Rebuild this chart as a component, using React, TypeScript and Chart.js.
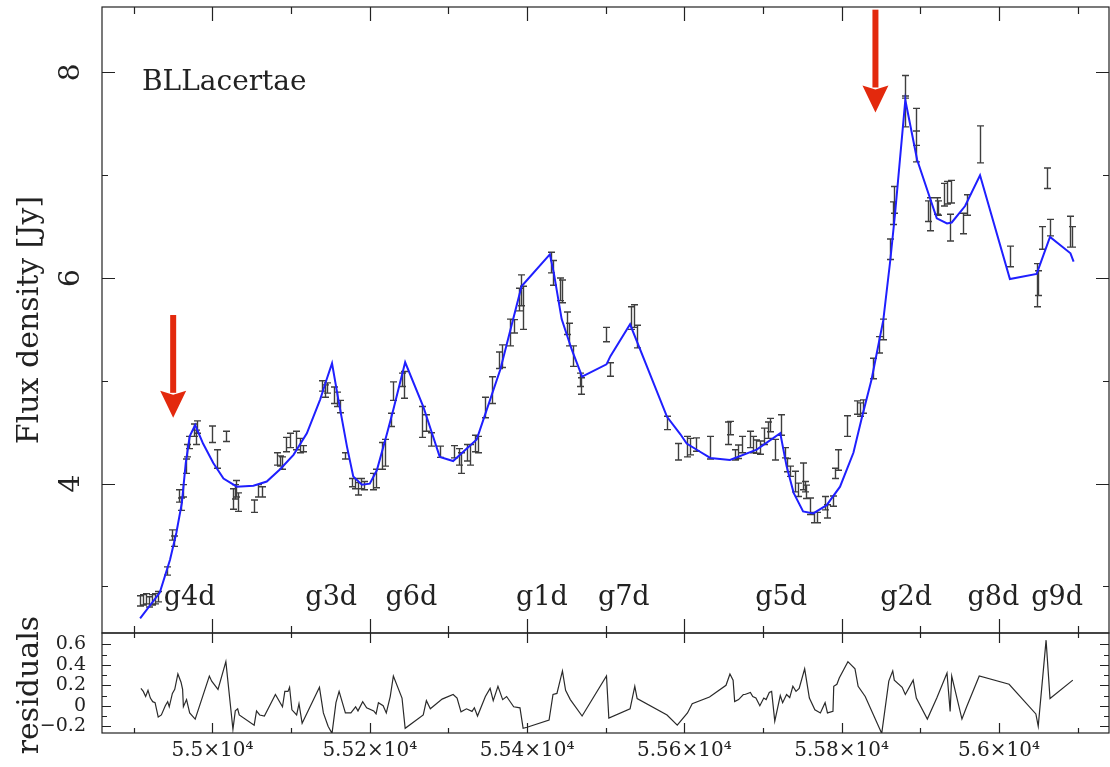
import React, { useEffect, useRef } from "react";
import { Chart, registerables } from "chart.js";

Chart.register(...registerables);

// ---------------- data ----------------
const obsMJD = [
  54908, 54912, 54915, 54919, 54923, 54927, 54931, 54942, 54949, 54951,
  54957, 54960, 54963, 54966, 54968, 54970, 54976, 54979, 54980, 54999,
  55006, 55017, 55026, 55028, 55030, 55032, 55053, 55058, 55063, 55082,
  55086, 55089, 55094, 55099, 55106, 55111, 55115, 55139, 55143, 55146,
  55155, 55158, 55162, 55169, 55177, 55181, 55185, 55189, 55193, 55204,
  55208, 55216, 55219, 55227, 55229, 55241, 55244, 55267, 55272, 55278,
  55289, 55307, 55313, 55316, 55324, 55328, 55334, 55337, 55347, 55356,
  55364, 55368, 55378, 55384, 55390, 55392, 55395, 55430, 55433, 55442,
  55445, 55451, 55453, 55458, 55467, 55469, 55501, 55505, 55532, 55536,
  55540, 55578, 55592, 55604, 55607, 55615, 55632, 55656, 55658, 55665,
  55668, 55673, 55684, 55687, 55691, 55696, 55701, 55707, 55709, 55715,
  55723, 55728, 55730, 55734, 55741, 55745, 55751, 55754, 55755, 55760,
  55765, 55769, 55779, 55782, 55789, 55792, 55796, 55807, 55819, 55824,
  55827, 55840, 55848, 55852, 55861, 55865, 55867, 55880, 55881, 55894,
  55895, 55910, 55913, 55921, 55923, 55930, 55934, 55939, 55938, 55954,
  55959, 55976, 56014, 56048, 56050, 56055, 56061, 56065, 56091, 56093,
];
const obsFlux = [
  2.86, 2.87, 2.88, 2.85, 2.87, 2.88, 2.9, 3.15, 3.5, 3.44,
  3.88, 3.8, 3.93, 4.17, 4.32, 4.4, 4.52, 4.45, 4.55, 4.48,
  4.24, 4.46, 3.85, 3.92, 3.95, 3.82, 3.78, 3.93, 3.92, 4.24,
  4.22, 4.2, 4.38, 4.42, 4.42, 4.37, 4.34, 4.95, 4.9, 4.93,
  4.86, 4.82, 4.75, 4.27, 4.01, 4.0, 3.95, 4.0, 3.98, 4.02,
  4.05, 4.27, 4.3, 4.62, 4.9, 5.01, 4.96, 4.6, 4.59, 4.43,
  4.31, 4.31, 4.26, 4.2, 4.3, 4.28, 4.39, 4.38, 4.74, 4.91,
  5.2, 5.24, 5.47, 5.53, 5.79, 5.88, 5.71, 6.15, 6.05, 5.89,
  5.87, 5.56, 5.45, 5.24, 5.01, 4.95, 5.45, 5.11, 5.61, 5.63,
  5.43, 4.59, 4.31, 4.36, 4.36, 4.38, 4.35, 4.49, 4.54, 4.28,
  4.31, 4.38, 4.43, 4.38, 4.36, 4.35, 4.46, 4.52, 4.57, 4.33,
  4.57, 4.3, 4.18, 4.12, 4.02, 3.94, 4.07, 3.97, 3.92, 3.78,
  3.67, 3.67, 3.81, 3.73, 3.83, 4.1, 4.23, 4.56, 4.74, 4.72,
  4.75, 5.12, 5.35, 5.5, 6.28, 6.63, 6.76, 7.62, 7.86, 7.47,
  7.28, 6.65, 6.62, 6.7, 6.68, 6.81, 6.83, 6.84, 6.49, 6.53,
  6.71, 7.3, 6.21, 5.93, 5.95, 6.39, 6.97, 6.49, 6.45, 6.4,
];
const obsErr = [
  0.05, 0.05, 0.05, 0.05, 0.05, 0.05, 0.05, 0.04, 0.05, 0.05,
  0.06, 0.06, 0.06, 0.07, 0.06, 0.06, 0.06, 0.07, 0.06, 0.08,
  0.09, 0.05, 0.1, 0.07, 0.08, 0.09, 0.06, 0.06, 0.05, 0.06,
  0.05, 0.06, 0.07, 0.07, 0.09, 0.07, 0.03, 0.05, 0.06, 0.05,
  0.08, 0.07, 0.06, 0.03, 0.04, 0.05, 0.06, 0.05, 0.04, 0.08,
  0.09, 0.13, 0.13, 0.065, 0.09, 0.065, 0.13, 0.15, 0.08, 0.065,
  0.055, 0.06, 0.08, 0.1, 0.08, 0.1, 0.08, 0.08, 0.1, 0.13,
  0.08, 0.11, 0.13, 0.065, 0.11, 0.15, 0.21, 0.1, 0.12, 0.11,
  0.11, 0.11, 0.11, 0.1, 0.065, 0.08, 0.07, 0.065, 0.11, 0.11,
  0.11, 0.065, 0.08, 0.1, 0.08, 0.065, 0.11, 0.11, 0.065, 0.05,
  0.065, 0.08, 0.08, 0.08, 0.065, 0.065, 0.08, 0.08, 0.065, 0.1,
  0.1, 0.05, 0.065, 0.05, 0.1, 0.065, 0.13, 0.05, 0.065, 0.08,
  0.05, 0.05, 0.065, 0.065, 0.05, 0.05, 0.1, 0.1, 0.065, 0.065,
  0.065, 0.1, 0.08, 0.1, 0.1, 0.11, 0.13, 0.15, 0.11, 0.18,
  0.15, 0.1, 0.16, 0.08, 0.07, 0.11, 0.11, 0.11, 0.13, 0.1,
  0.1, 0.18, 0.1, 0.21, 0.12, 0.11, 0.1, 0.08, 0.15, 0.1,
];

const modelMJD = [
  54908, 54933, 54946, 54954, 54961, 54966, 54971, 54978, 54988, 55001,
  55014, 55031, 55052, 55069, 55086, 55103, 55120, 55137, 55145, 55152,
  55160, 55171, 55179, 55190, 55200, 55209, 55222, 55230, 55245, 55268,
  55289, 55306, 55336, 55366, 55393, 55429, 55434, 55444, 55457, 55470,
  55501, 55506, 55531, 55578, 55595, 55603, 55620, 55633, 55658, 55692,
  55722, 55730, 55739, 55751, 55764, 55781, 55798, 55815, 55826, 55838,
  55853, 55862, 55868, 55881, 55896, 55921, 55934, 55940, 55957, 55976,
  56014, 56048, 56065, 56091, 56095,
];
const modelFlux = [
  2.69, 2.94, 3.26, 3.52, 3.81, 4.2, 4.46, 4.57, 4.39, 4.2,
  4.05, 3.97, 3.98, 4.02, 4.14, 4.28, 4.49, 4.82, 5.01, 5.17,
  4.82, 4.36, 4.07, 3.99, 4.0, 4.13, 4.49, 4.72, 5.18, 4.75,
  4.26, 4.22, 4.43, 5.11, 5.92, 6.23, 6.05, 5.6, 5.3, 5.04,
  5.16, 5.24, 5.55, 4.65, 4.48, 4.39, 4.31, 4.25, 4.23, 4.33,
  4.49, 4.17, 3.91, 3.73, 3.71, 3.79, 3.97, 4.3, 4.65, 5.01,
  5.59, 6.18, 6.63, 7.73, 7.15, 6.58, 6.53, 6.54, 6.7, 7.0,
  5.99, 6.04, 6.4, 6.24, 6.16,
];

const residMJD = [
  54909, 54912, 54915, 54918, 54921, 54924, 54927, 54929, 54931, 54935,
  54940, 54943, 54945, 54949, 54952, 54956, 54960, 54962, 54963, 54967,
  54971, 54978, 54996, 54999, 55007, 55017, 55026, 55029, 55032, 55034,
  55053, 55056, 55060, 55066, 55080, 55089, 55092, 55096, 55098, 55101,
  55107, 55110, 55114, 55136, 55141, 55147, 55152, 55157, 55161, 55169,
  55176, 55182, 55185, 55191, 55196, 55205, 55208, 55211, 55217, 55221,
  55226, 55230, 55241, 55245, 55268, 55272, 55277, 55292, 55306, 55311,
  55316, 55323, 55330, 55333, 55337, 55347, 55353, 55357, 55363, 55369,
  55374, 55383, 55391, 55395, 55400, 55428, 55433, 55438, 55445, 55449,
  55455, 55470, 55501, 55504, 55531, 55537, 55540, 55578, 55591, 55604,
  55610, 55632, 55653, 55658, 55662, 55664, 55669, 55675, 55677, 55684,
  55687, 55691, 55696, 55701, 55704, 55708, 55711, 55715, 55722, 55725,
  55730, 55734, 55738, 55742, 55746, 55753, 55759, 55766, 55773, 55779,
  55782, 55789, 55790, 55794, 55797, 55808, 55817, 55821, 55830, 55851,
  55860, 55865, 55867, 55877, 55881, 55891, 55895, 55909, 55921, 55934,
  55938, 55940, 55953, 55959, 55975, 56013, 56047, 56050, 56060, 56065,
  56094,
];
const residVal = [
  0.17, 0.14, 0.09, 0.15, 0.075, 0.04, 0.03, -0.04, -0.11, -0.09,
  0.0, 0.04, -0.01, 0.12, 0.16, 0.31, 0.23, 0.16, -0.01, 0.06,
  -0.07, -0.13, 0.29, 0.24, 0.16, 0.43, -0.23, -0.05, -0.03, -0.09,
  -0.19, -0.05, -0.09, -0.1, 0.11, -0.01, 0.14, 0.14, 0.18, -0.04,
  -0.09, 0.02, -0.17, 0.18, -0.07, -0.2, -0.27, 0.03, 0.14, -0.07,
  -0.07, -0.01, -0.05, 0.04, -0.02, -0.05, -0.08, 0.03, 0.0, -0.07,
  0.09, 0.29, 0.075, -0.22, -0.09, 0.05, -0.03, 0.065, 0.11, 0.075,
  -0.06, -0.03, -0.055, -0.02, -0.1, 0.09, 0.17, 0.05, 0.19, 0.06,
  0.09, -0.01, -0.02, -0.22, -0.21, -0.14, 0.11, 0.12, 0.34, 0.15,
  0.06, -0.1, 0.29, -0.12, -0.03, 0.19, 0.07, -0.09, -0.19, -0.07,
  0.02, 0.085, 0.2, 0.31, 0.25, 0.04, 0.06, 0.11, 0.11, 0.13,
  0.09, 0.075, 0.0, 0.075, 0.06, 0.13, 0.14, -0.15, 0.1, 0.03,
  0.11, 0.08, 0.19, 0.14, 0.17, 0.36, 0.075, -0.04, -0.07, 0.03,
  -0.07, -0.055, 0.19, 0.21, 0.27, 0.43, 0.36, 0.19, 0.09, -0.27,
  0.24, 0.34, 0.25, 0.18, 0.11, 0.25, 0.075, -0.13, 0.075, 0.32,
  -0.055, 0.29, -0.13, -0.01, 0.29, 0.21, -0.08, -0.2, 0.64, 0.07,
  0.25,
];

const componentNames = ["g4d", "g3d", "g6d", "g1d", "g7d", "g5d", "g2d", "g8d", "g9d"];
const componentMJD = [54971, 55151, 55253, 55419, 55523, 55723, 55882, 55993, 56074];
const componentLabelFlux = 2.82;

const arrowMJD = [54950, 55843];
const arrowTailFlux = [5.64, 8.61];
const arrowTipFlux = [4.64, 7.61];

const xMajorTicks = [55000, 55200, 55400, 55600, 55800, 56000];
const xTickLabels = ["5.5×10⁴", "5.52×10⁴", "5.54×10⁴", "5.56×10⁴", "5.58×10⁴", "5.6×10⁴"];
const xMinorTicks = [54900, 55100, 55300, 55500, 55700, 55900, 56100];
const fluxMajorTicks = [4, 6, 8];
const fluxTickLabels = ["4", "6", "8"];
const fluxMinorTicks = [3, 5, 7];
const residMajorTicks = [-0.2, 0, 0.2, 0.4, 0.6];
const residTickLabels = ["−0.2", "0", "0.2", "0.4", "0.6"];
const residMinorTicks = [-0.1, 0.1, 0.3, 0.5];

const sourceName = "BLLacertae";
const fluxTitle = "Flux density [Jy]";
const residTitle = "residuals";

// ---------------- style ----------------
const X_MIN = 54859.5;
const X_MAX = 56140;
const FLUX_MIN = 2.547;
const FLUX_MAX = 8.636;
const RES_MIN = -0.266;
const RES_MAX = 0.71;

const FONT = '"DejaVu Serif", "Liberation Serif", serif';
const INK = "#222222";
const BLUE = "#1f1fff";
const RED = "#e3290d";
const BAR = "rgba(35,35,35,0.88)";

type TickSpec = {
  xMajor: number[];
  xMinor: number[];
  yMajor: number[];
  yMinor: number[];
  xMajorLen: number;
  xMinorLen: number;
  yMajorLen: number;
  yMinorLen: number;
};

function framePlugin(spec: TickSpec) {
  return {
    id: "frameTicks",
    afterDraw(chart: any) {
      const { ctx, chartArea: a } = chart;
      const xs = chart.scales.x;
      const ys = chart.scales.y;
      ctx.save();
      ctx.strokeStyle = INK;
      ctx.lineWidth = 1.2;
      ctx.beginPath();
      const vx = (vals: number[], len: number) =>
        vals.forEach((v) => {
          const p = Math.round(xs.getPixelForValue(v)) + 0.5;
          if (p < a.left || p > a.right) return;
          ctx.moveTo(p, a.top);
          ctx.lineTo(p, a.top + len);
          ctx.moveTo(p, a.bottom);
          ctx.lineTo(p, a.bottom - len);
        });
      const vy = (vals: number[], len: number) =>
        vals.forEach((v) => {
          const p = Math.round(ys.getPixelForValue(v)) + 0.5;
          if (p < a.top || p > a.bottom) return;
          ctx.moveTo(a.left, p);
          ctx.lineTo(a.left + len, p);
          ctx.moveTo(a.right, p);
          ctx.lineTo(a.right - len, p);
        });
      vx(spec.xMajor, spec.xMajorLen);
      vx(spec.xMinor, spec.xMinorLen);
      vy(spec.yMajor, spec.yMajorLen);
      vy(spec.yMinor, spec.yMinorLen);
      ctx.stroke();
      ctx.strokeRect(a.left, a.top, a.right - a.left, a.bottom - a.top);
      ctx.restore();
    },
  };
}

const errorBarPlugin = {
  id: "errorBars",
  beforeDatasetsDraw(chart: any) {
    const { ctx, chartArea: a } = chart;
    const xs = chart.scales.x;
    const ys = chart.scales.y;
    ctx.save();
    ctx.beginPath();
    ctx.rect(a.left, a.top, a.right - a.left, a.bottom - a.top);
    ctx.clip();
    ctx.strokeStyle = BAR;
    ctx.lineWidth = 1.4;
    ctx.beginPath();
    obsMJD.forEach((m, i) => {
      const px = Math.round(xs.getPixelForValue(m)) + 0.5;
      const y1 = ys.getPixelForValue(obsFlux[i] - obsErr[i]);
      const y2 = ys.getPixelForValue(obsFlux[i] + obsErr[i]);
      ctx.moveTo(px, y1);
      ctx.lineTo(px, y2);
      ctx.moveTo(px - 3.5, y1);
      ctx.lineTo(px + 3.5, y1);
      ctx.moveTo(px - 3.5, y2);
      ctx.lineTo(px + 3.5, y2);
    });
    ctx.stroke();
    ctx.restore();
  },
};

const annotationPlugin = {
  id: "annotations",
  afterDraw(chart: any) {
    const { ctx, chartArea: a } = chart;
    const xs = chart.scales.x;
    const ys = chart.scales.y;
    ctx.save();
    ctx.fillStyle = INK;
    ctx.font = `28px ${FONT}`;
    ctx.textAlign = "left";
    ctx.textBaseline = "alphabetic";
    ctx.fillText(sourceName, a.left + 40, a.top + 83);
    ctx.font = `27px ${FONT}`;
    ctx.textAlign = "center";
    const ly = ys.getPixelForValue(componentLabelFlux);
    componentNames.forEach((n, i) => {
      ctx.fillText(n, xs.getPixelForValue(componentMJD[i]), ly);
    });
    ctx.fillStyle = RED;
    arrowMJD.forEach((m, i) => {
      const px = xs.getPixelForValue(m);
      const tail = ys.getPixelForValue(arrowTailFlux[i]);
      const tip = ys.getPixelForValue(arrowTipFlux[i]);
      const headH = 27;
      const headW = 13;
      const shaftW = 3;
      ctx.fillRect(px - shaftW, tail, 2 * shaftW, tip - headH - tail + 2);
      ctx.beginPath();
      ctx.moveTo(px - headW, tip - headH);
      ctx.lineTo(px, tip - headH + 4);
      ctx.lineTo(px + headW, tip - headH);
      ctx.lineTo(px, tip);
      ctx.closePath();
      ctx.fill();
    });
    ctx.restore();
  },
};

const residTitlePlugin = {
  id: "residTitle",
  afterDraw(chart: any) {
    const { ctx, chartArea: a } = chart;
    ctx.save();
    ctx.fillStyle = INK;
    ctx.font = `30px ${FONT}`;
    ctx.textAlign = "center";
    ctx.textBaseline = "middle";
    ctx.translate(30, (a.top + a.bottom) / 2 + 2);
    ctx.rotate(-Math.PI / 2);
    ctx.fillText(residTitle, 0, 0);
    ctx.restore();
  },
};

export default function App() {
  const mainRef = useRef<HTMLCanvasElement>(null);
  const resRef = useRef<HTMLCanvasElement>(null);

  useEffect(() => {
    Chart.defaults.font.family = FONT;

    const main = new Chart(mainRef.current as HTMLCanvasElement, {
      type: "scatter",
      data: {
        datasets: [
          {
            type: "line",
            label: "model",
            data: modelMJD.map((x, i) => ({ x, y: modelFlux[i] })),
            borderColor: BLUE,
            borderWidth: 2,
            pointRadius: 0,
            tension: 0,
            fill: false,
          } as any,
          {
            label: "flux",
            data: obsMJD.map((x, i) => ({ x, y: obsFlux[i] })),
            pointRadius: 0,
            showLine: false,
          },
        ],
      },
      options: {
        animation: false,
        responsive: false,
        events: [],
        layout: { padding: { left: 0, right: 1, top: 7, bottom: 7 } },
        plugins: { legend: { display: false }, tooltip: { enabled: false } },
        scales: {
          x: { type: "linear", min: X_MIN, max: X_MAX, display: false },
          y: {
            type: "linear",
            min: FLUX_MIN,
            max: FLUX_MAX,
            grid: { display: false, drawTicks: false },
            border: { display: false },
            afterBuildTicks: (s: any) => {
              s.ticks = fluxMajorTicks.map((value) => ({ value }));
            },
            afterFit: (s: any) => {
              s.width = 102;
              s.paddingTop = 0;
              s.paddingBottom = 0;
            },
            ticks: {
              autoSkip: false,
              minRotation: 90,
              maxRotation: 90,
              crossAlign: "center",
              padding: 21,
              color: INK,
              font: { family: FONT, size: 28 },
              callback: (v: any) => fluxTickLabels[fluxMajorTicks.indexOf(Number(v))] ?? "",
            },
            title: {
              display: true,
              text: fluxTitle,
              color: INK,
              font: { family: FONT, size: 30 },
              padding: { top: 12, bottom: 0 },
            },
          } as any,
        },
      },
      plugins: [
        errorBarPlugin,
        annotationPlugin,
        framePlugin({
          xMajor: xMajorTicks,
          xMinor: xMinorTicks,
          yMajor: fluxMajorTicks,
          yMinor: fluxMinorTicks,
          xMajorLen: 14,
          xMinorLen: 7,
          yMajorLen: 13,
          yMinorLen: 6,
        }),
      ],
    });

    const res = new Chart(resRef.current as HTMLCanvasElement, {
      type: "line",
      data: {
        datasets: [
          {
            label: "residuals",
            data: residMJD.map((x, i) => ({ x, y: residVal[i] })),
            borderColor: "#2a2a2a",
            borderWidth: 1.2,
            pointRadius: 0,
            tension: 0,
            fill: false,
          },
        ],
      },
      options: {
        animation: false,
        responsive: false,
        events: [],
        layout: { padding: { left: 0, right: 1, top: 33, bottom: 0 } },
        plugins: { legend: { display: false }, tooltip: { enabled: false } },
        scales: {
          x: {
            type: "linear",
            min: X_MIN,
            max: X_MAX,
            grid: { display: false, drawTicks: false },
            border: { display: false },
            afterBuildTicks: (s: any) => {
              s.ticks = xMajorTicks.map((value) => ({ value }));
            },
            afterFit: (s: any) => {
              s.height = 34;
              s.paddingLeft = 0;
              s.paddingRight = 0;
            },
            ticks: {
              autoSkip: false,
              minRotation: 0,
              maxRotation: 0,
              padding: 6,
              color: INK,
              font: { family: FONT, size: 20 },
              callback: (v: any) => xTickLabels[xMajorTicks.indexOf(Number(v))] ?? "",
            },
          } as any,
          y: {
            type: "linear",
            min: RES_MIN,
            max: RES_MAX,
            grid: { display: false, drawTicks: false },
            border: { display: false },
            afterBuildTicks: (s: any) => {
              s.ticks = residMajorTicks.map((value) => ({ value }));
            },
            afterFit: (s: any) => {
              s.width = 102;
              s.paddingTop = 0;
              s.paddingBottom = 0;
            },
            ticks: {
              autoSkip: false,
              padding: 16,
              color: INK,
              font: { family: FONT, size: 19 },
              callback: (v: any) => residTickLabels[residMajorTicks.indexOf(Number(v))] ?? "",
            },
          } as any,
        },
      },
      plugins: [
        residTitlePlugin,
        framePlugin({
          xMajor: xMajorTicks,
          xMinor: xMinorTicks,
          yMajor: residMajorTicks,
          yMinor: residMinorTicks,
          xMajorLen: 10,
          xMinorLen: 5,
          yMajorLen: 9,
          yMinorLen: 5,
        }),
      ],
    });

    return () => {
      main.destroy();
      res.destroy();
    };
  }, []);

  return (
    <div
      style={{
        position: "fixed",
        left: 0,
        top: 0,
        width: 1110,
        height: 767,
        background: "#ffffff",
        overflow: "hidden",
      }}
    >
      <canvas
        ref={mainRef}
        width={1110}
        height={640}
        style={{ position: "absolute", left: 0, top: 0, width: 1110, height: 640 }}
      />
      <canvas
        ref={resRef}
        width={1110}
        height={167}
        style={{ position: "absolute", left: 0, top: 600, width: 1110, height: 167 }}
      />
    </div>
  );
}
